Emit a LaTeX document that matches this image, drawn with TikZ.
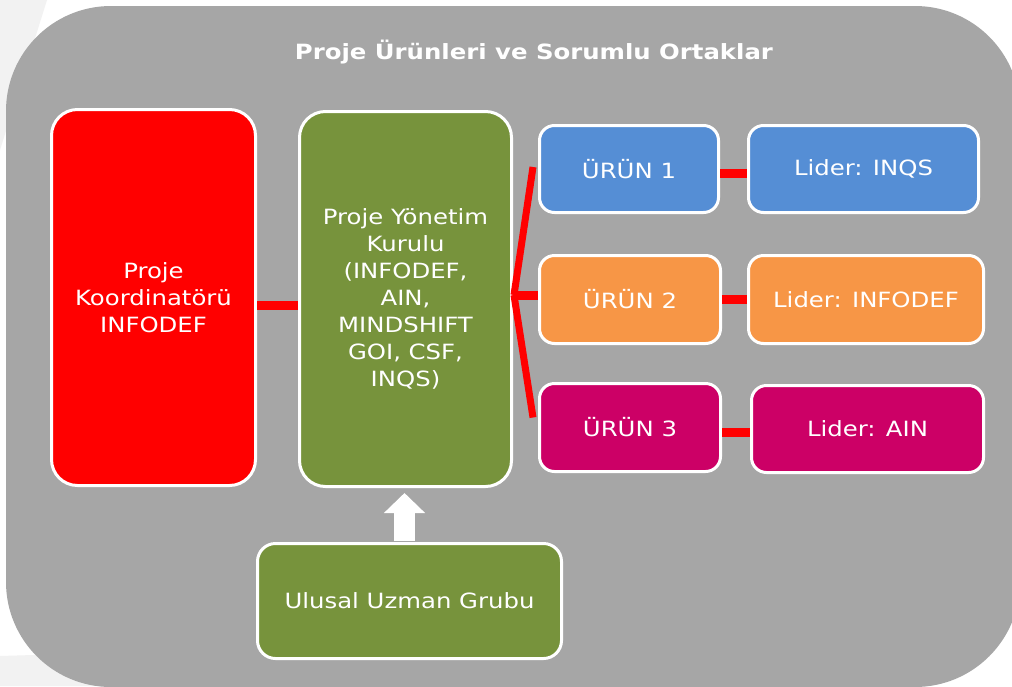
\documentclass[tikz,border=0pt]{standalone}
\usepackage{fontspec}
\setmainfont[FakeStretch=1.16]{DejaVu Sans}
\usetikzlibrary{arrows.meta,calc}
\definecolor{bggray}{HTML}{A6A6A6}
\definecolor{slidegray}{HTML}{F2F2F2}
\definecolor{cred}{HTML}{FF0000}
\definecolor{cgreen}{HTML}{77933C}
\definecolor{cblue}{HTML}{558ED5}
\definecolor{corange}{HTML}{F79646}
\definecolor{cmag}{HTML}{CC0066}
\tikzset{
  box/.style={draw=white, line width=3pt, inner sep=0pt, text=white, align=center,
    font=\fontsize{21}{27}\selectfont},
  bigbox/.style={box, rounded corners=26pt},
  smallbox/.style={box, rounded corners=15pt},
  conn/.style={draw=cred, line width=9pt},
  fan/.style={draw=cred, line width=7pt}
}
\begin{document}
\begin{tikzpicture}[x=1pt,y=-1pt]
\useasboundingbox (0,0) rectangle (1012,686);
\fill[white] (0,0) rectangle (1012,686);
\fill[slidegray] (0,0) -- (47,0) -- (0,150) -- cycle;
\fill[slidegray] (0,656) -- (200,650) -- (200,686) -- (0,686) -- cycle;
\fill[bggray, rounded corners=105pt] (6,6) rectangle (1020,687);

\node[font=\fontsize{21}{27}\selectfont\bfseries, text=white] (title) at (534,52) {Proje Ürünleri ve Sorumlu Ortaklar};

\node[bigbox, fill=cred, minimum width=204pt, minimum height=376pt] (red) at (153.5,297.5) {Proje\\Koordinatörü\\INFODEF};
\node[bigbox, fill=cgreen, minimum width=212pt, minimum height=375pt] (green) at (405.5,299) {Proje Yönetim\\Kurulu\\(INFODEF,\\AIN,\\MINDSHIFT\\GOI, CSF,\\INQS)};

\node[smallbox, fill=cblue, minimum width=179pt, minimum height=87pt] (u1) at (629,169) {ÜRÜN 1};
\node[smallbox, fill=cblue, minimum width=230pt, minimum height=87pt] (l1) at (863.5,169) {Lider: INQS};
\node[smallbox, fill=corange, minimum width=181pt, minimum height=88pt] (u2) at (630,299.5) {ÜRÜN 2};
\node[smallbox, fill=corange, minimum width=235pt, minimum height=88pt] (l2) at (866,299.5) {Lider: INFODEF};
\node[smallbox, fill=cmag, minimum width=181pt, minimum height=88pt] (u3) at (630,427.5) {ÜRÜN 3};
\node[smallbox, fill=cmag, minimum width=232pt, minimum height=87pt] (l3) at (867.5,429) {Lider: AIN};

\node[smallbox, rounded corners=18pt, fill=cgreen, minimum width=304pt, minimum height=115pt] (uug) at (409.5,601) {Ulusal Uzman Grubu};

% connectors
\draw[conn] ([yshift=-8pt]red.east) -- ([yshift=-8pt]red.east -| green.west);
\coordinate (fanorig) at ([xshift=1pt,yshift=4pt]green.east);
\coordinate (fantop) at ([xshift=-5pt,yshift=2pt]u1.west);
\coordinate (fanbot) at ([xshift=-5pt,yshift=10pt]u3.west);
\draw[conn] (fanorig) -- (fanorig -| u2.west);
\draw[fan] (fanorig) -- (fantop);
\draw[fan] (fanorig) -- (fanbot);
\draw[conn] ([yshift=-4pt]u1.east) -- ([yshift=-4pt]u1.east -| l1.west);
\draw[conn] (u2.east) -- (u2.east -| l2.west);
\draw[conn] ([yshift=-5pt]u3.east) -- ([yshift=-5pt]u3.east -| l3.west);

% white arrow
\draw[white, line width=21pt, -{Triangle[width=40pt,length=20pt]}, shorten >=5pt, shorten <=1pt]
  ([xshift=-5pt]uug.north) -- ([xshift=-5pt]uug.north |- green.south);
\end{tikzpicture}
\end{document}
